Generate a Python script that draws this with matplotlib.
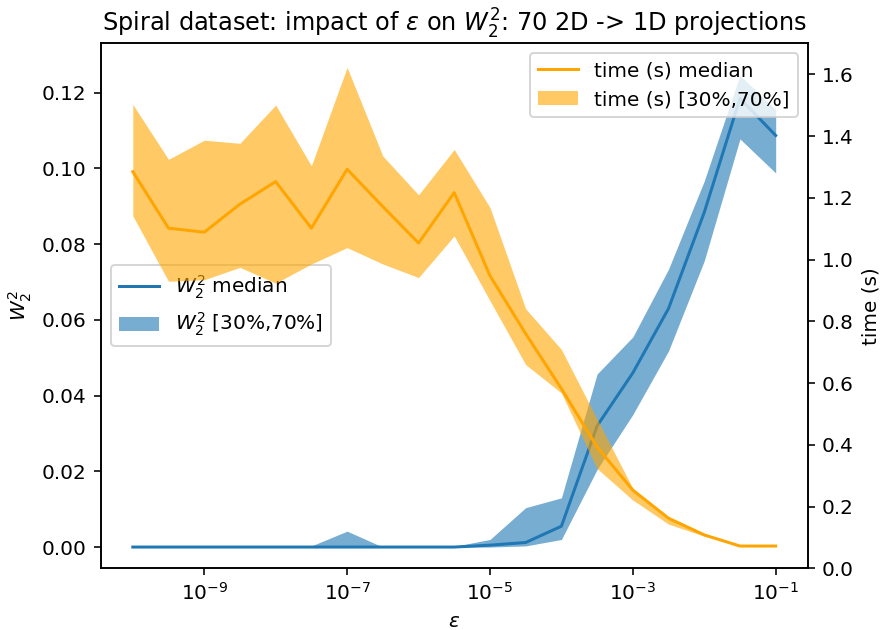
import matplotlib
matplotlib.use('Agg')
import matplotlib.pyplot as plt

# epsilon grid (half-decade steps)
eps = [1e-10, 3.16e-10, 1e-9, 3.16e-9, 1e-8, 3.16e-8, 1e-7, 3.16e-7, 1e-6, 3.16e-6,
       1e-5, 3.16e-5, 1e-4, 3.16e-4, 1e-3, 3.16e-3, 1e-2, 3.16e-2, 1e-1]

# W2^2 median and [30%, 70%] band
w2_median = [0.0, 0.0, 0.0, 0.0, 0.0, 0.0, 0.0, 0.0, 0.0, 0.0,
             0.0005, 0.0012, 0.0055, 0.032, 0.046, 0.063, 0.0884, 0.1185, 0.1087]
w2_low = [0.0, 0.0, 0.0, 0.0, 0.0, 0.0, 0.0, 0.0, 0.0, 0.0,
          0.0, 0.0003, 0.002, 0.0205, 0.035, 0.0518, 0.0756, 0.1078, 0.0988]
w2_high = [0.0, 0.0003, 0.0, 0.0, 0.0, 0.0003, 0.0042, 0.0, 0.0, 0.0002,
           0.002, 0.0104, 0.013, 0.0457, 0.0555, 0.0734, 0.0967, 0.1246, 0.1155]

# time (s) median and [30%, 70%] band
t_median = [1.285, 1.102, 1.089, 1.180, 1.253, 1.102, 1.293, 1.172, 1.054, 1.217,
            0.948, 0.760, 0.582, 0.393, 0.253, 0.162, 0.108, 0.072, 0.072]
t_low = [1.142, 0.930, 0.935, 0.975, 0.924, 0.986, 1.039, 0.986, 0.942, 1.077,
         0.867, 0.660, 0.568, 0.323, 0.221, 0.143, 0.104, 0.072, 0.072]
t_high = [1.503, 1.325, 1.387, 1.377, 1.501, 1.304, 1.623, 1.336, 1.210, 1.357,
          1.169, 0.841, 0.709, 0.483, 0.259, 0.167, 0.113, 0.072, 0.072]

fig = plt.figure(figsize=(880 / 144, 630 / 144), dpi=144)
ax = fig.add_axes([0.1144, 0.098, 0.918 - 0.1144, 0.931 - 0.098])

ax.plot(eps, w2_median, color='C0', label=r'$W_2^2$ median')
ax.fill_between(eps, w2_low, w2_high, color='C0', alpha=0.6, linewidth=0,
                label=r'$W_2^2$ [30%,70%]')
ax.set_xscale('log')
ax.set_ylim(-0.0056, 0.133)
ax.set_xlabel(r'$\varepsilon$')
ax.set_ylabel(r'$W_2^2$')
ax.legend(loc='center left')

ax2 = ax.twinx()
ax2.plot(eps, t_median, color='orange', label='time (s) median')
ax2.fill_between(eps, t_low, t_high, color='orange', alpha=0.6, linewidth=0,
                 label='time (s) [30%,70%]')
ax2.set_ylim(bottom=0)
ax2.set_ylabel('time (s)')
ax2.legend(loc='upper right')

ax.set_title(r'Spiral dataset: impact of $\varepsilon$ on $W_2^2$: 70 2D -> 1D projections')

fig.savefig('out.png', dpi=144)
